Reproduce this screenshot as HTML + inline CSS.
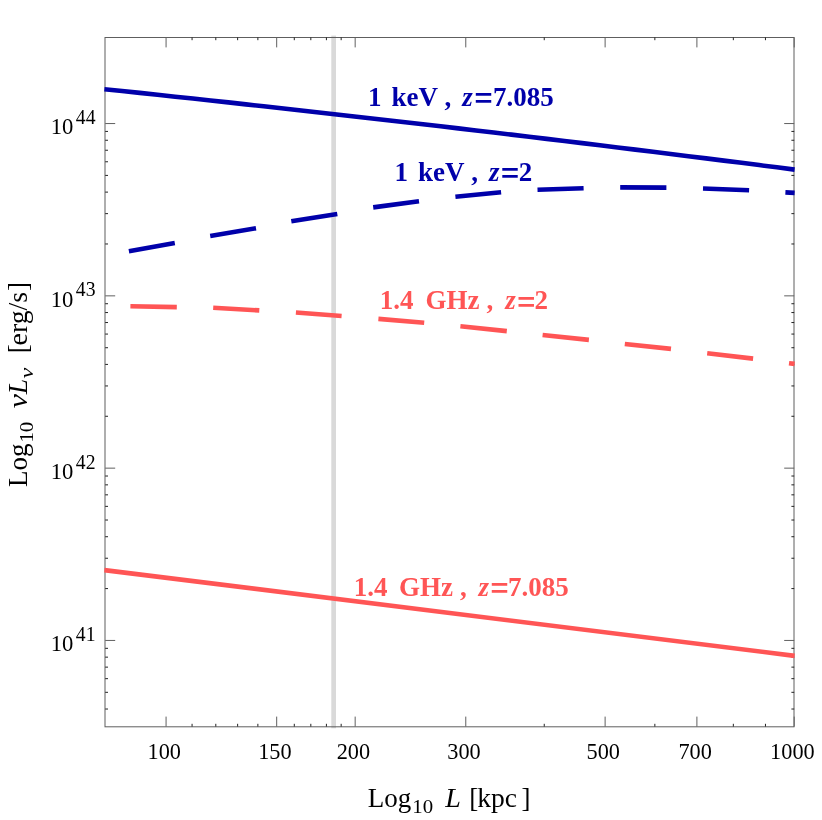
<!DOCTYPE html>
<html><head><meta charset="utf-8"><title>plot</title>
<style>
html,body{margin:0;padding:0;background:#fff;}
svg{display:block;will-change:transform;}
text{font-family:"Liberation Serif",serif;fill:#000;}
.b{font-weight:bold;font-size:27px;}
.bi{font-weight:bold;font-style:italic;font-size:27px;}
.eq{font-family:"Liberation Sans",sans-serif;font-weight:bold;font-size:25.5px;}
.t{font-size:24.1px;}
.s{font-size:20.5px;}
.a{font-size:27px;}
.ai{font-size:27px;font-style:italic;}
.as{font-size:19.5px;}
.asi{font-size:19.5px;font-style:italic;}
</style></head><body>
<svg width="822" height="820" viewBox="0 0 822 820">
<rect x="0" y="0" width="822" height="820" fill="#ffffff"/>
<rect x="331.3" y="35.6" width="4.7" height="692.7" fill="#d9d9d9"/>
<rect x="105.0" y="37.5" width="689.0" height="689.3" fill="none" stroke="#5e5e5e" stroke-width="1"/>
<path d="M166.07 726.6v-10M166.07 37.4v10M276.68 726.6v-10M276.68 37.4v10M355.16 726.6v-10M355.16 37.4v10M465.77 726.6v-10M465.77 37.4v10M605.11 726.6v-10M605.11 37.4v10M696.90 726.6v-10M696.90 37.4v10M794.20 726.6v-10M794.20 37.4v10M105.2 640.45h10M794.2 640.45h-10M105.2 468.15h10M794.2 468.15h-10M105.2 295.85h10M794.2 295.85h-10M105.2 123.55h10M794.2 123.55h-10" stroke="#606060" stroke-width="1" fill="none"/>
<path d="M192.07 726.6v-2.8M192.07 37.4v2.8M215.81 726.6v-2.8M215.81 37.4v2.8M237.64 726.6v-2.8M237.64 37.4v2.8M257.86 726.6v-2.8M257.86 37.4v2.8M294.29 726.6v-2.8M294.29 37.4v2.8M310.82 726.6v-2.8M310.82 37.4v2.8M326.42 726.6v-2.8M326.42 37.4v2.8M341.16 726.6v-2.8M341.16 37.4v2.8M544.24 726.6v-2.8M544.24 37.4v2.8M654.85 726.6v-2.8M654.85 37.4v2.8M733.33 726.6v-2.8M733.33 37.4v2.8M765.46 726.6v-2.8M765.46 37.4v2.8M105.2 709.02h2.8M794.2 709.02h-2.8M105.2 692.32h2.8M794.2 692.32h-2.8M105.2 678.67h2.8M794.2 678.67h-2.8M105.2 667.14h2.8M794.2 667.14h-2.8M105.2 657.15h2.8M794.2 657.15h-2.8M105.2 648.33h2.8M794.2 648.33h-2.8M105.2 588.58h2.8M794.2 588.58h-2.8M105.2 558.24h2.8M794.2 558.24h-2.8M105.2 536.72h2.8M794.2 536.72h-2.8M105.2 520.02h2.8M794.2 520.02h-2.8M105.2 506.37h2.8M794.2 506.37h-2.8M105.2 494.84h2.8M794.2 494.84h-2.8M105.2 484.85h2.8M794.2 484.85h-2.8M105.2 476.03h2.8M794.2 476.03h-2.8M105.2 416.28h2.8M794.2 416.28h-2.8M105.2 385.94h2.8M794.2 385.94h-2.8M105.2 364.42h2.8M794.2 364.42h-2.8M105.2 347.72h2.8M794.2 347.72h-2.8M105.2 334.07h2.8M794.2 334.07h-2.8M105.2 322.54h2.8M794.2 322.54h-2.8M105.2 312.55h2.8M794.2 312.55h-2.8M105.2 303.73h2.8M794.2 303.73h-2.8M105.2 243.98h2.8M794.2 243.98h-2.8M105.2 213.64h2.8M794.2 213.64h-2.8M105.2 192.12h2.8M794.2 192.12h-2.8M105.2 175.42h2.8M794.2 175.42h-2.8M105.2 161.77h2.8M794.2 161.77h-2.8M105.2 150.24h2.8M794.2 150.24h-2.8M105.2 140.25h2.8M794.2 140.25h-2.8M105.2 131.43h2.8M794.2 131.43h-2.8" stroke="#222222" stroke-width="1" fill="none"/>
<path d="M104.4 89.18 L122.1 91.04 L139.8 92.90 L157.5 94.78 L175.2 96.67 L192.9 98.57 L210.6 100.49 L228.3 102.41 L246.0 104.34 L263.7 106.29 L281.4 108.24 L299.1 110.21 L316.8 112.18 L334.5 114.17 L352.2 116.17 L369.9 118.18 L387.6 120.19 L405.3 122.22 L423.0 124.27 L440.7 126.32 L458.3 128.38 L476.0 130.45 L493.7 132.54 L511.4 134.63 L529.1 136.74 L546.8 138.85 L564.5 140.98 L582.2 143.12 L599.9 145.27 L617.6 147.43 L635.3 149.60 L653.0 151.78 L670.7 153.97 L688.4 156.17 L706.1 158.38 L723.8 160.61 L741.5 162.84 L759.2 165.09 L776.9 167.34 L794.6 169.61" stroke="#0000aa" stroke-width="4.6" fill="none"/>
<path d="M104.4 570.1 L794.6 655.85" stroke="#ff5555" stroke-width="4.6" fill="none"/>
<path d="M128.9 251.3L174.8 243.1M210.2 236.1L256 228.2M291.3 221.2L337.3 213.9M373.2 207.4L419 201.2M455.4 196.7L501.1 192.2M537.5 189.8L583.6 188.2M620.2 187.4L666.4 187.6M703 188.5L749.1 190.2M785.4 192.4L794.6 192.9" stroke="#0000aa" stroke-width="4.6" fill="none"/>
<path d="M130.4 306.3L176.8 307.1M213.2 307.8L259.3 310.4M295.9 312.5L341.6 316M378.4 318.9L424.2 322.8M460.4 326.3L506.8 331.1M542.6 335L588.9 339.9M624.8 344L671 348.9M707.2 353.2L753.1 358.6M789 363.2L794.6 363.9" stroke="#ff5555" stroke-width="4.6" fill="none"/>
<g fill="#0000aa"><text class="b" x="367.9" y="105.9" style="fill:#0000aa">1</text><text class="b" x="391.4" y="105.9" style="fill:#0000aa">keV</text><text class="b" x="444.6" y="105.9" style="fill:#0000aa">,</text><text class="bi" x="462.3" y="105.9" style="fill:#0000aa">z</text><text class="eq" transform="translate(474.6,107.3) scale(1.21,1)" style="fill:#0000aa">=</text><text class="b" x="493.1" y="105.9" style="fill:#0000aa">7.085</text></g>
<g fill="#0000aa"><text class="b" x="394.5" y="180.6" style="fill:#0000aa">1</text><text class="b" x="418.0" y="180.6" style="fill:#0000aa">keV</text><text class="b" x="471.2" y="180.6" style="fill:#0000aa">,</text><text class="bi" x="488.9" y="180.6" style="fill:#0000aa">z</text><text class="eq" transform="translate(500.9,182.0) scale(1.21,1)" style="fill:#0000aa">=</text><text class="b" x="518.8" y="180.6" style="fill:#0000aa">2</text></g>
<g fill="#ff5555"><text class="b" x="379.7" y="309.2" style="fill:#ff5555">1.4</text><text class="b" x="425.6" y="309.2" style="fill:#ff5555">GHz</text><text class="b" x="486.6" y="309.2" style="fill:#ff5555">,</text><text class="bi" x="505.2" y="309.2" style="fill:#ff5555">z</text><text class="eq" transform="translate(517.3,310.6) scale(1.21,1)" style="fill:#ff5555">=</text><text class="b" x="534.6" y="309.2" style="fill:#ff5555">2</text></g>
<g fill="#ff5555"><text class="b" x="353.7" y="596.0" style="fill:#ff5555">1.4</text><text class="b" x="399.0" y="596.0" style="fill:#ff5555">GHz</text><text class="b" x="460.0" y="596.0" style="fill:#ff5555">,</text><text class="bi" x="478.6" y="596.0" style="fill:#ff5555">z</text><text class="eq" transform="translate(490.4,597.4) scale(1.21,1)" style="fill:#ff5555">=</text><text class="b" x="508.1" y="596.0" style="fill:#ff5555">7.085</text></g>
<text class="t" transform="translate(164.3,759.3) scale(0.925,1)" text-anchor="middle">100</text>
<text class="t" transform="translate(274.9,759.3) scale(0.925,1)" text-anchor="middle">150</text>
<text class="t" transform="translate(353.4,759.3) scale(0.925,1)" text-anchor="middle">200</text>
<text class="t" transform="translate(464.0,759.3) scale(0.925,1)" text-anchor="middle">300</text>
<text class="t" transform="translate(603.3,759.3) scale(0.925,1)" text-anchor="middle">500</text>
<text class="t" transform="translate(695.1,759.3) scale(0.925,1)" text-anchor="middle">700</text>
<text class="t" transform="translate(792.4,759.3) scale(0.925,1)" text-anchor="middle">1000</text>
<text class="t" transform="translate(50.7,651.2) scale(0.94,1)">10</text><text class="s" transform="translate(75.8,640.9) scale(0.96,1)">41</text>
<text class="t" transform="translate(50.7,478.8) scale(0.94,1)">10</text><text class="s" transform="translate(75.8,468.5) scale(0.96,1)">42</text>
<text class="t" transform="translate(50.7,306.6) scale(0.94,1)">10</text><text class="s" transform="translate(75.8,296.2) scale(0.96,1)">43</text>
<text class="t" transform="translate(50.7,134.2) scale(0.94,1)">10</text><text class="s" transform="translate(75.8,123.9) scale(0.96,1)">44</text>
<text class="a" x="367.7" y="806.5">Log</text><text class="as" transform="translate(412.2,812.5) scale(1.07,1)">10</text><text class="ai" transform="translate(445.3,806.5) scale(1.04,1)">L</text><text class="a" x="469.2" y="806.5">[</text><text class="a" transform="translate(477.3,806.5) scale(1.02,1)">kpc</text><text class="a" x="521.5" y="806.5">]</text>
<g transform="translate(26.8,0) rotate(-90)"><text class="a" x="-487.1" y="0">Log</text><text class="as" transform="translate(-442.6,6.0) scale(1.07,1)">10</text><text class="ai" transform="translate(-408.3,0) scale(1.18,1)">ν</text><text class="ai" transform="translate(-394.2,0) scale(1.02,1)">L</text><text class="asi" transform="translate(-378.6,6.0) scale(1.25,1)">ν</text><text class="a" x="-353.3" y="0">[</text><text class="a" transform="translate(-345.4,0) scale(1.03,1)">erg/s</text><text class="a" x="-290.9" y="0">]</text></g>
</svg>
</body></html>
